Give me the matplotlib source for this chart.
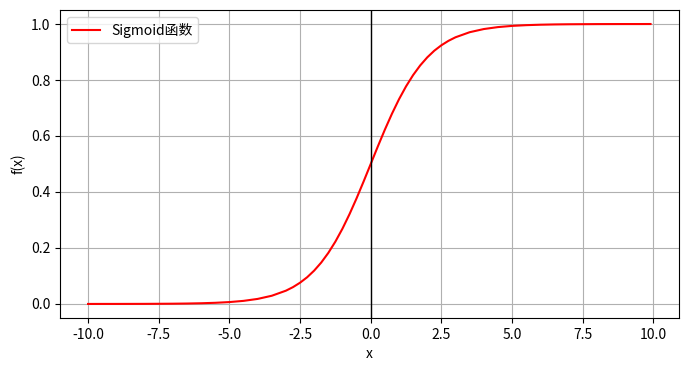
import matplotlib.pyplot as plt

plt.rcParams['font.family'] = ['Noto Sans CJK SC', 'DejaVu Sans']
plt.rcParams['axes.unicode_minus'] = False

# values
x_vals = [-10.0, -9.5, -9.0, -8.5, -8.0, -7.5, -7.0, -6.5, -6.0, -5.5, -5.0,
          -4.5, -4.0, -3.5, -3.0, -2.75, -2.5, -2.25, -2.0, -1.75, -1.5,
          -1.25, -1.0, -0.75, -0.5, -0.25, 0.0, 0.25, 0.5, 0.75, 1.0, 1.25,
          1.5, 1.75, 2.0, 2.25, 2.5, 2.75, 3.0, 3.5, 4.0, 4.5, 5.0, 5.5,
          6.0, 6.5, 7.0, 7.5, 8.0, 8.5, 9.0, 9.5, 9.9]
y_vals = [0.0000, 0.0001, 0.0001, 0.0002, 0.0003, 0.0006, 0.0009, 0.0015,
          0.0025, 0.0041, 0.0067, 0.0110, 0.0180, 0.0293, 0.0474, 0.0601,
          0.0759, 0.0953, 0.1192, 0.1480, 0.1824, 0.2227, 0.2689, 0.3208,
          0.3775, 0.4378, 0.5000, 0.5622, 0.6225, 0.6792, 0.7311, 0.7773,
          0.8176, 0.8520, 0.8808, 0.9047, 0.9241, 0.9399, 0.9526, 0.9707,
          0.9820, 0.9890, 0.9933, 0.9959, 0.9975, 0.9985, 0.9991, 0.9994,
          0.9997, 0.9998, 0.9999, 0.9999, 1.0000]
series_label = 'Sigmoid函数'

fig = plt.figure(figsize=(6.89, 3.71), dpi=100)
ax = fig.add_axes([0.087, 0.143, 0.898, 0.830])

ax.plot(x_vals, y_vals, color='red', label=series_label)
ax.axvline(0, color='black', linewidth=1)
ax.set_xlabel('x')
ax.set_ylabel('f(x)')
ax.grid(True)
ax.legend(loc='upper left')

plt.savefig('out.png', dpi=100)
